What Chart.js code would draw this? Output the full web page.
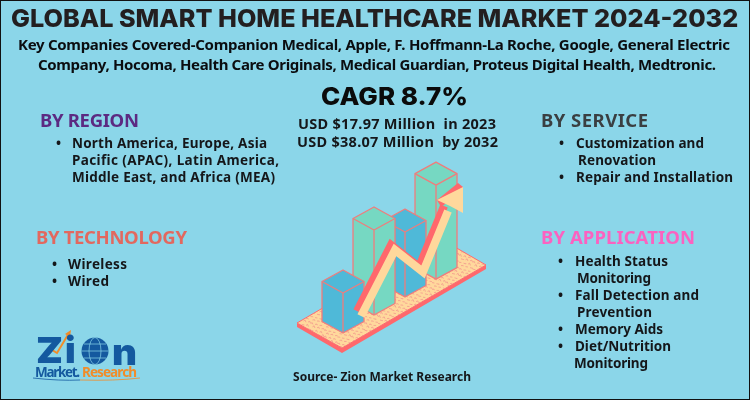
<!DOCTYPE html>
<html>
<head>
<meta charset="utf-8">
<title>Global Smart Home Healthcare Market</title>
<script src="https://cdn.jsdelivr.net/npm/chart.js@4"></script>
<style>
    html, body { margin: 0; padding: 0; }
    #page { position: relative; width: 750px; height: 400px; box-sizing: border-box; overflow: hidden;
            background: #8bd6e9; border: 1px solid #111; }
    #page canvas { position: absolute; left: -1px; top: -1px; }
    .t { position: absolute; white-space: pre; line-height: 1; transform: translateY(-50%);
         font-family: "Noto Sans", sans-serif; font-weight: 700; color: #15171a; transform-origin: left center; }
    .title { font-family: Inter, sans-serif; font-weight: 800; font-size: 24.5px; color: #231f20; }
    .cagr { font-family: Inter, sans-serif; font-weight: 800; font-size: 24.5px; color: #0b0b0b; }
    .sub { font-size: 15px; color: #0b0d10; }
    .usd { font-size: 14.5px; }
    .head { font-size: 18.5px; }
    .item { font-size: 13.5px; }
    .src { font-size: 12px; }
    .logo { font-family: Inter, sans-serif; font-weight: 900; font-size: 36px; color: #14599f; }
    .logo2 { font-size: 13.5px; color: #14599f; }
</style>
</head>
<body>
<div id="page">
    <canvas id="chart" width="750" height="400"></canvas>
</div>
<script>
// bar heights
const categories = ['1', '2', '3', '4'];
const barValues = [40, 85, 65, 94];
const barColors = ['#4fb9d8', '#76d8c2', '#4fb9d8', '#76d8c2'];

// the rising arrow, in the same units as the bars
const arrowX = [33.5, 67.5, 95.5, 135.5];
const arrowY = [17, 83, 61, 146];

const titleText = 'GLOBAL SMART HOME HEALTHCARE MARKET 2024-2032';
const companyLines = [
    'Key Companies Covered-Companion Medical, Apple, F. Hoffmann-La Roche, Google, General Electric',
    'Company, Hocoma, Health Care Originals, Medical Guardian, Proteus Digital Health, Medtronic.'
];
const cagrText = 'CAGR 8.7%';
const usdLines = ['USD $17.97 Million  in 2023', 'USD $38.07 Million  by 2032'];
const regionLines = ['North America, Europe, Asia', 'Pacific (APAC), Latin America,', 'Middle East, and Africa (MEA)'];
const technologyLines = ['Wireless', 'Wired'];
const serviceLines = ['Customization and', 'Renovation', 'Repair and Installation'];
const applicationLines = ['Health Status', 'Monitoring', 'Fall Detection and', 'Prevention', 'Memory Aids', 'Diet/Nutrition', 'Monitoring'];
const sourceText = 'Source- Zion Market Research';

const page = document.getElementById('page');

// puts one line of text on the page and spaces it out to the width in the picture
function place(text, x, y, right, cls, color) {
    const el = document.createElement('span');
    el.className = 't ' + cls;
    el.textContent = text;
    el.style.left = (x - 1) + 'px';
    el.style.top = (y - 1) + 'px';
    if (color) el.style.color = color;
    page.appendChild(el);
    if (right) {
        const gap = (right - x - el.getBoundingClientRect().width) / Math.max(text.length - 1, 1);
        el.style.letterSpacing = gap.toFixed(3) + 'px';
    }
    return el;
}

// same, but widens the letters themselves (the headline font is a wide one)
function placeWide(text, x, y, right, cls) {
    const el = place(text, x, y, 0, cls);
    const k = (right - x) / el.getBoundingClientRect().width;
    el.style.transform = 'translateY(-50%) scaleX(' + k.toFixed(3) + ')';
    return el;
}

function drawTexts() {
    placeWide(titleText, 11, 18, 738, 'title');
    place(companyLines[0], 18, 44, 730, 'sub');
    place(companyLines[1], 38, 64, 716, 'sub');
    placeWide(cagrText, 321, 96, 468, 'cagr');
    place(usdLines[0], 298, 123, 496, 'usd');
    place(usdLines[1], 297, 141, 498, 'usd');

    place('BY REGION', 40, 120, 139, 'head', '#5c2a82');
    [267, 279, 275].forEach((r, i) => place(regionLines[i], 72, 144 + i * 17, r, 'item'));
    place('•', 56, 144, 0, 'item');

    place('BY TECHNOLOGY', 36, 237, 187, 'head', '#e2685f');
    [127, 109].forEach((r, i) => place(technologyLines[i], 68, 265 + i * 17, r, 'item'));
    place('•', 52, 265, 0, 'item');
    place('•', 52, 282, 0, 'item');

    place('BY SERVICE', 541, 120, 648, 'head', '#3a3f42');
    place(serviceLines[0], 576, 144, 704, 'item');
    place(serviceLines[1], 578, 161, 656, 'item');
    place(serviceLines[2], 576, 178, 733, 'item');
    place('•', 559, 144, 0, 'item');
    place('•', 559, 178, 0, 'item');

    place('BY APPLICATION', 541, 237, 695, 'head', '#fb62c0');
    const appX = [575, 577, 575, 577, 575, 575, 574];
    const appR = [668, 651, 699, 652, 663, 671, 648];
    applicationLines.forEach((line, i) => place(line, appX[i], 262 + i * 17, appR[i], 'item'));
    [262, 296, 330, 347].forEach(y => place('•', 558, y, 0, 'item'));

    place(sourceText, 293, 377, 471, 'src');

    // logo lettering, the globe and arrow are on the canvas
    placeWide('Z', 36, 350, 63, 'logo');
    place('i', 65, 350, 0, 'logo');
    placeWide('n', 112, 352, 137, 'logo');
    place('Market.', 35, 373, 80, 'logo2');
    place('Research', 82, 373, 137, 'logo2', '#f28c28');
}

function poly(ctx, pts) {
    ctx.beginPath();
    pts.forEach((p, i) => i ? ctx.lineTo(p[0], p[1]) : ctx.moveTo(p[0], p[1]));
    ctx.closePath();
}

const SLANT = 0.58;
const HALF_W = 21;
const HALF_H = 11.5;
const EDGE = '#f07c7c';

// speckled floor the bars stand on
const floorPlugin = {
    id: 'floor',
    beforeDatasetsDraw(chart) {
        const ctx = chart.ctx;
        const bars = chart.getDatasetMeta(0).data;
        const x0 = bars[0].x, y0 = bars[0].base;
        const left = [x0 - 46, y0 - 10], bottom = [x0 - 1, y0 + 15];
        const right = [x0 + 143, y0 - 68], back = [x0 + 98, y0 - 94];

        ctx.save();
        ctx.fillStyle = '#ff686c';
        poly(ctx, [left, bottom, right, [right[0], right[1] + 4], [bottom[0], bottom[1] + 5], [left[0], left[1] + 4]]);
        ctx.fill();

        poly(ctx, [left, back, right, bottom]);
        ctx.fillStyle = '#ffd89c';
        ctx.fill();
        ctx.strokeStyle = '#ff686c';
        ctx.lineWidth = 1;
        ctx.stroke();
        ctx.clip();

        // small squiggles on a fixed grid
        ctx.strokeStyle = '#f0908c';
        ctx.lineWidth = 0.7;
        for (let row = 0; row < 40; row++) {
            for (let col = 0; col < 60; col++) {
                const px = left[0] + col * 4.5 + (row % 2) * 2;
                const py = 235 + row * 3.4 + (col % 3);
                const a = (col * 37 + row * 53) % 6;
                ctx.beginPath();
                ctx.moveTo(px, py);
                ctx.lineTo(px + 1.6 + a * 0.2, py - 1 + a * 0.35);
                ctx.lineTo(px + 2.4, py + 1.2 - a * 0.2);
                ctx.stroke();
            }
        }
        ctx.restore();
    }
};

// turns the flat bars and the line into the isometric drawing
const isoPlugin = {
    id: 'iso',
    afterDatasetsDraw(chart) {
        const ctx = chart.ctx;
        const bars = chart.getDatasetMeta(0).data;
        const x0 = bars[0].x;

        ctx.save();
        ctx.strokeStyle = EDGE;
        ctx.lineWidth = 1.3;
        ctx.lineJoin = 'round';
        for (let i = bars.length - 1; i >= 0; i--) {
            const b = bars[i];
            const lift = (b.x - x0) * SLANT;
            const bot = b.base - lift, top = b.y - lift;
            poly(ctx, [
                [b.x, bot], [b.x - HALF_W, bot - HALF_H], [b.x - HALF_W, top - HALF_H],
                [b.x, top - 2 * HALF_H], [b.x + HALF_W, top - HALF_H], [b.x + HALF_W, bot - HALF_H]
            ]);
            ctx.fillStyle = barColors[i];
            ctx.fill();
            ctx.stroke();
            ctx.beginPath();
            ctx.moveTo(b.x - HALF_W, top - HALF_H);
            ctx.lineTo(b.x, top);
            ctx.lineTo(b.x + HALF_W, top - HALF_H);
            ctx.moveTo(b.x, top);
            ctx.lineTo(b.x, bot);
            ctx.stroke();
        }

        // arrow: red side offset up and left, cream face on top
        const pts = chart.getDatasetMeta(1).data.map(p => [p.x, p.y]);
        const tip = pts[pts.length - 1];
        const shaft = pts.slice(0, -1).concat([[tip[0] - 15, tip[1] + 24]]);
        ctx.lineCap = 'butt';
        ctx.lineJoin = 'miter';
        ctx.lineWidth = 8;

        ctx.strokeStyle = '#ff686c';
        ctx.beginPath();
        shaft.forEach((p, i) => i ? ctx.lineTo(p[0] - 4, p[1] - 5) : ctx.moveTo(p[0] - 4, p[1] - 5));
        ctx.stroke();
        ctx.fillStyle = '#ff686c';
        poly(ctx, [[tip[0] - 26, tip[1] + 13], [tip[0] - 5, tip[1] - 4], [tip[0], tip[1]], [tip[0], tip[1] + 4], [tip[0] - 22, tip[1] + 20]]);
        ctx.fill();

        ctx.strokeStyle = '#ffd89c';
        ctx.beginPath();
        shaft.forEach((p, i) => i ? ctx.lineTo(p[0], p[1]) : ctx.moveTo(p[0], p[1]));
        ctx.stroke();
        ctx.fillStyle = '#ffd89c';
        poly(ctx, [[tip[0], tip[1]], [tip[0], tip[1] + 26], [tip[0] - 13, tip[1] + 19], [tip[0] - 26, tip[1] + 13]]);
        ctx.fill();
        ctx.restore();
    }
};

// globe and arrow of the logo
const logoPlugin = {
    id: 'logoMark',
    afterDraw(chart) {
        const ctx = chart.ctx;
        const cx = 95, cy = 351, r = 13.5;
        ctx.save();
        ctx.fillStyle = '#14599f';
        ctx.beginPath();
        ctx.arc(cx, cy, r, 0, Math.PI * 2);
        ctx.fill();
        ctx.strokeStyle = '#8bd6e9';
        ctx.lineWidth = 0.7;
        ctx.beginPath();
        ctx.ellipse(cx, cy, 6, r, 0, 0, Math.PI * 2);
        ctx.moveTo(cx - r, cy);
        ctx.lineTo(cx + r, cy);
        ctx.moveTo(cx - 11, cy - 7);
        ctx.lineTo(cx + 11, cy - 7);
        ctx.moveTo(cx - 11, cy + 7);
        ctx.lineTo(cx + 11, cy + 7);
        ctx.stroke();

        ctx.strokeStyle = '#f28c28';
        ctx.lineWidth = 2;
        ctx.beginPath();
        ctx.moveTo(39, 362);
        ctx.lineTo(52, 350);
        ctx.lineTo(57, 353);
        ctx.lineTo(69, 333);
        ctx.stroke();
        ctx.fillStyle = '#f28c28';
        poly(ctx, [[71, 330], [70, 337], [65, 334]]);
        ctx.fill();

        // swoosh under the market name
        ctx.strokeStyle = '#14599f';
        ctx.lineWidth = 0.8;
        ctx.beginPath();
        ctx.moveTo(33, 378);
        ctx.quadraticCurveTo(60, 381, 80, 380);
        ctx.stroke();
        ctx.strokeStyle = '#f28c28';
        ctx.beginPath();
        ctx.moveTo(80, 380);
        ctx.quadraticCurveTo(115, 381, 140, 378);
        ctx.stroke();
        ctx.restore();
    }
};

new Chart(document.getElementById('chart').getContext('2d'), {
    type: 'bar',
    data: {
        labels: categories,
        datasets: [
            {
                data: barValues,
                backgroundColor: 'rgba(0,0,0,0)',
                borderWidth: 0,
                grouped: false
            },
            {
                type: 'line',
                data: arrowX.map((x, i) => ({ x: x, y: arrowY[i] })),
                xAxisID: 'xArrow',
                showLine: false,
                pointRadius: 0
            }
        ]
    },
    options: {
        responsive: false,
        animation: false,
        layout: {
            padding: { left: 327.5, right: 298.5, top: 133, bottom: 67 }
        },
        plugins: {
            legend: { display: false },
            tooltip: { enabled: false }
        },
        scales: {
            x: { display: false },
            xArrow: { type: 'linear', display: false, offset: false, min: 0, max: 124 },
            y: { display: false, min: 0, max: 200 }
        }
    },
    plugins: [floorPlugin, isoPlugin, logoPlugin]
});

drawTexts();
</script>
</body>
</html>
